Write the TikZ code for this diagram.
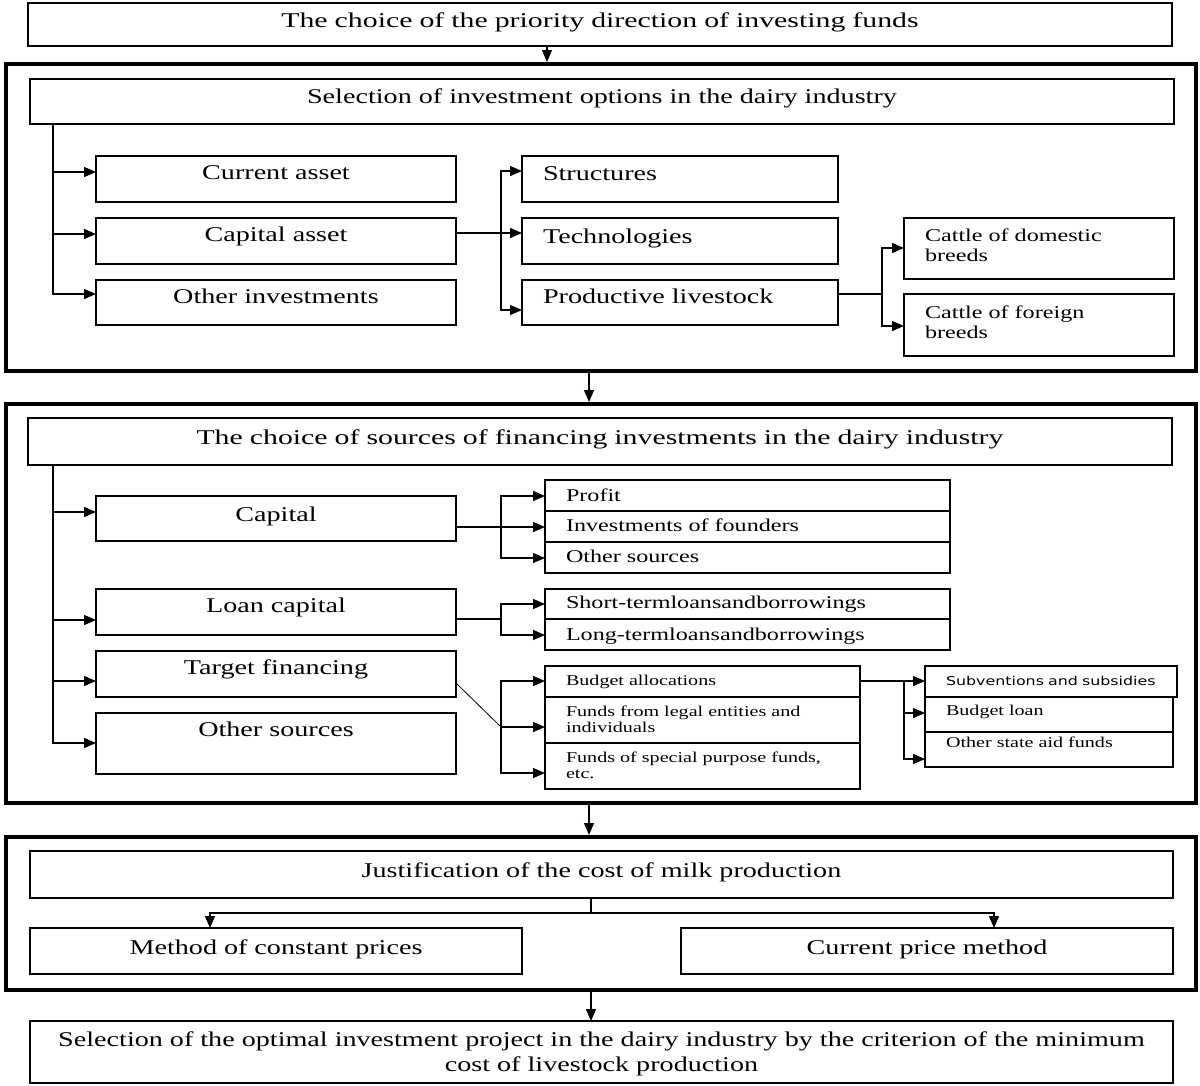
\documentclass[tikz,border=0pt]{standalone}
\usepackage{fontspec}
\setmainfont{Liberation Serif}[FakeStretch=1.34]
\newfontfamily\wserif{Liberation Serif}[FakeStretch=1.42]
\newfontfamily\subvfont{DejaVu Sans}[FakeStretch=1.3]
\usetikzlibrary{arrows.meta,calc}
\newcommand\fM{\fontsize{21}{25}\selectfont}
\newcommand\fW{\wserif\fontsize{21}{25}\selectfont}
\newcommand\fMd{\fontsize{18}{20}\selectfont}
\newcommand\fSm{\fontsize{15}{16}\selectfont}
\newcommand\fSs{\subvfont\fontsize{12.2}{14}\selectfont}
\tikzset{
  bx/.style={draw, line width=1.3pt, inner xsep=21pt, inner ysep=0pt, outer sep=0pt,
             anchor=north west, align=center, font=\fM},
  lf/.style={align=left},
  wd/.style={text width=\bxw pt+30pt, inner xsep=6pt},
  frm/.style={line width=4pt},
  ln/.style={line width=1.3pt},
  arr/.style={ln, -{Triangle[length=12pt,width=10pt]}},
}
% \bx{name}{style}{x1}{y1}{x2}{y2}{baseline}{text}
\newcommand\bx[8]{%
  \pgfmathsetmacro\bxw{#5-#3-42}%
  \pgfmathsetmacro\bxh{#7-#4}%
  \pgfmathsetmacro\bxd{#6-#7}%
  \node[bx, text width=\bxw pt, text height=\bxh pt, text depth=\bxd pt, #2] (#1) at (#3,#4) {#8};}
\begin{document}
\begin{tikzpicture}[x=1pt,y=-1pt]
\useasboundingbox (0,0) rectangle (1200,1085);
% ---------- top
\bx{title}{font=\fW}{28}{3}{1172}{46}{27}{The choice of the priority direction of investing funds}
% ---------- frame 1
\bx{fr1}{frm}{6}{64}{1196}{371}{100}{}
\bx{sel}{}{30}{79}{1174}{124}{103}{Selection of investment options in the dairy industry}
\bx{cur}{}{96}{156}{456}{202}{179}{Current asset}
\bx{cap}{}{96}{218}{456}{264}{241}{Capital asset}
\bx{oth}{}{96}{280}{456}{325}{303}{Other investments}
\bx{str}{lf}{522}{156}{838}{202}{180}{Structures}
\bx{tec}{lf}{522}{218}{838}{264}{243}{Technologies}
\bx{liv}{lf}{522}{280}{838}{325}{303}{Productive livestock}
\bx{dom}{lf,font=\fMd}{904}{218}{1174}{279}{241}{Cattle of domestic\\breeds}
\bx{forn}{lf,font=\fMd}{904}{294}{1174}{356}{318}{Cattle of foreign\\breeds}
% ---------- frame 2
\bx{fr2}{frm}{6}{404}{1196}{803}{500}{}
\bx{src}{font=\fW}{28}{418}{1172}{465}{444}{The choice of sources of financing investments in the dairy industry}
\bx{capi}{}{96}{496}{456}{541}{521}{Capital}
\bx{loan}{}{96}{589}{456}{635}{612}{Loan capital}
\bx{targ}{}{96}{651}{456}{697}{674}{Target financing}
\bx{osrc}{}{96}{713}{456}{774}{736}{Other sources}
\bx{prof}{lf,font=\fMd}{545}{480}{950}{511}{501}{Profit}
\bx{inv}{lf,font=\fMd}{545}{511}{950}{542}{531}{Investments of founders}
\bx{osr2}{lf,font=\fMd}{545}{542}{950}{573}{562}{Other sources}
\bx{short}{lf,font=\fMd}{545}{589}{950}{619}{608}{Short-termloansandborrowings}
\bx{long}{lf,font=\fMd}{545}{619}{950}{650}{640}{Long-termloansandborrowings}
\bx{budg}{lf,font=\fSm}{545}{666}{860}{697}{685}{Budget allocations}
\bx{legal}{lf,font=\fSm}{545}{697}{860}{743}{716}{Funds from legal entities and\\individuals}
\bx{spec}{lf,font=\fSm}{545}{743}{860}{789}{762}{Funds of special purpose funds,\\etc.}
\bx{subv}{lf,font=\fSs}{925}{666}{1177}{697}{685}{\mbox{Subventions and subsidies}}
\bx{bloan}{lf,font=\fSm}{925}{697}{1173}{732}{715}{Budget loan}
\bx{ostate}{lf,font=\fSm}{925}{732}{1173}{767}{747}{Other state aid funds}
% ---------- frame 3
\bx{fr3}{frm}{6}{837}{1196}{990}{900}{}
\bx{just}{}{30}{851}{1173}{898}{877}{Justification of the cost of milk production}
\bx{meth}{}{30}{928}{522}{974}{954}{Method of constant prices}
\bx{curp}{}{681}{928}{1173}{974}{954}{Current price method}
% ---------- final
\bx{fin}{wd}{30}{1021}{1173}{1083}{1046}{Selection of the optimal investment project in the dairy industry by the criterion of the minimum\\cost of livestock production}
% ---------- connectors between stages
\draw[arr] ($(title.south west)+(519,0)$) -- ($(fr1.north west)+(541,-2)$);
\draw[arr] ($(fr1.south west)+(583,2)$) -- ($(fr2.north west)+(583,-2)$);
\draw[arr] ($(fr2.south west)+(583,2)$) -- ($(fr3.north west)+(583,-2)$);
\draw[arr] ($(fr3.south west)+(585,2)$) -- ($(fin.north west)+(561,0)$);
% ---------- frame 1 connectors
\coordinate (t1) at ($(sel.south west)+(23,0)$);
\draw[arr] (t1) |- ($(cur.north west)+(0,16)$);
\draw[arr] (t1) |- ($(cap.north west)+(0,16)$);
\draw[arr] (t1) |- ($(oth.north west)+(0,14)$);
\coordinate (t2) at ($(cap.north east)+(45,15)$);
\draw[ln] ($(cap.north east)+(0,15)$) -- (t2);
\draw[arr] (t2) |- ($(str.north west)+(0,15)$);
\draw[arr] (t2) -- ($(tec.north west)+(0,15)$);
\draw[arr] (t2) |- ($(liv.north west)+(0,30)$);
\coordinate (t3) at ($(liv.north east)+(44,14)$);
\draw[ln] ($(liv.north east)+(0,14)$) -- (t3);
\draw[arr] (t3) |- ($(dom.north west)+(0,30)$);
\draw[arr] (t3) |- ($(forn.north west)+(0,32)$);
% ---------- frame 2 connectors
\coordinate (t4) at ($(src.south west)+(25,0)$);
\draw[arr] (t4) |- ($(capi.north west)+(0,16)$);
\draw[arr] (t4) |- ($(loan.north west)+(0,31)$);
\draw[arr] (t4) |- ($(targ.north west)+(0,30)$);
\draw[arr] (t4) |- ($(osrc.north west)+(0,30)$);
\coordinate (t5) at ($(capi.north east)+(45,31)$);
\draw[ln] ($(capi.north east)+(0,31)$) -- (t5);
\draw[arr] (t5) |- ($(prof.north west)+(0,16)$);
\draw[arr] (t5) -- ($(inv.north west)+(0,16)$);
\draw[arr] (t5) |- ($(osr2.north west)+(0,16)$);
\coordinate (t6) at ($(loan.north east)+(45,30)$);
\draw[ln] ($(loan.north east)+(0,30)$) -- (t6);
\draw[arr] (t6) |- ($(short.north west)+(0,15)$);
\draw[arr] (t6) |- ($(long.north west)+(0,16)$);
\coordinate (t7) at ($(targ.north east)+(45,76)$);
\draw[line width=0.8pt] ($(targ.north east)+(0,32)$) -- (t7);
\draw[arr] (t7) |- ($(budg.north west)+(0,15)$);
\draw[arr] (t7) -- ($(legal.north west)+(0,30)$);
\draw[arr] (t7) |- ($(spec.north west)+(0,30)$);
\coordinate (t8) at ($(budg.north east)+(44,15)$);
\draw[ln] ($(budg.north east)+(0,15)$) -- (t8);
\draw[arr] (t8) -- ($(subv.north west)+(0,15)$);
\draw[arr] (t8) |- ($(bloan.north west)+(0,16)$);
\draw[arr] (t8) |- ($(ostate.north west)+(0,27)$);
% ---------- frame 3 connectors
\coordinate (t9) at ($(just.south west)+(561,15)$);
\draw[ln] ($(just.south west)+(561,0)$) -- (t9);
\draw[arr] (t9) -| ($(meth.north west)+(180,0)$);
\draw[arr] (t9) -| ($(curp.north west)+(313,0)$);
\end{tikzpicture}
\end{document}
